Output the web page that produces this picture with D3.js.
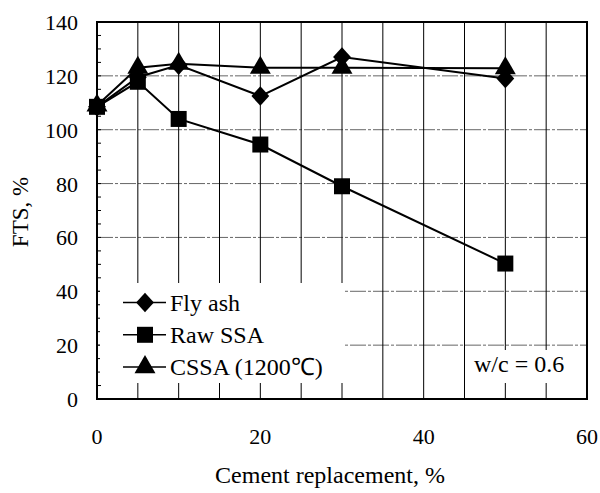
<!DOCTYPE html>
<html><head><meta charset="utf-8">
<script src="https://cdn.jsdelivr.net/npm/d3@7/dist/d3.min.js"></script>
<style>body{margin:0;background:#fff}svg{display:block}text{font-family:"Liberation Serif","Times New Roman",serif;fill:#000}</style>
</head><body><svg id="c" width="600" height="493"></svg>
<script>
const replacement = [0, 5, 10, 20, 30, 50];
const flyAsh = [108.5, 119.5, 124, 112.5, 127, 119];
const rawSSA = [108.5, 117.8, 104, 94.5, 79, 50.3];
const cssa = [109, 123, 124.5, 123, 123, 122.8];
const seriesNames = ["Fly ash", "Raw SSA", "CSSA (1200\u2103)"];
const xTicks = [0, 20, 40, 60];
const yTicks = [0, 20, 40, 60, 80, 100, 120, 140];

const svg = d3.select("#c");
const m = {l: 97, r: 587, t: 22, b: 399};
const x = d3.scaleLinear().domain([0, 60]).range([m.l, m.r]);
const y = d3.scaleLinear().domain([0, 140]).range([m.b, m.t]);

// horizontal gridlines
svg.append("g").selectAll("line").data(yTicks.slice(1, -1)).join("line")
  .attr("x1", m.l).attr("x2", m.r).attr("y1", d => y(d)).attr("y2", d => y(d))
  .attr("stroke", "#666").attr("stroke-width", 1).attr("stroke-dasharray", "16,2,3,2");
// vertical gridlines every 5
svg.append("g").selectAll("line").data(d3.range(5, 60, 5)).join("line")
  .attr("x1", d => x(d)).attr("x2", d => x(d)).attr("y1", m.t).attr("y2", m.b)
  .attr("stroke", "#000").attr("stroke-width", 1);
// minor y ticks
svg.append("g").selectAll("line").data(d3.range(5, 140, 5)).join("line")
  .attr("x1", m.l).attr("x2", m.l + 4).attr("y1", d => y(d)).attr("y2", d => y(d))
  .attr("stroke", "#000").attr("stroke-width", 1);

// legend + label white boxes
svg.append("rect").attr("x", 100).attr("y", 283).attr("width", 245).attr("height", 100).attr("fill", "#fff");
svg.append("rect").attr("x", 470).attr("y", 350).attr("width", 100).attr("height", 33).attr("fill", "#fff");

// frame
svg.append("rect").attr("x", m.l).attr("y", m.t).attr("width", m.r - m.l).attr("height", m.b - m.t)
  .attr("fill", "none").attr("stroke", "#000").attr("stroke-width", 2);

// axes labels
svg.append("g").selectAll("text").data(yTicks).join("text")
  .attr("x", 78).attr("y", d => y(d) + 8).attr("text-anchor", "end")
  .attr("font-size", 22).text(d => d);
svg.append("g").selectAll("text").data(xTicks).join("text")
  .attr("x", d => x(d)).attr("y", 444).attr("text-anchor", "middle")
  .attr("font-size", 22).text(d => d);
svg.append("text").attr("x", 330).attr("y", 483).attr("text-anchor", "middle")
  .attr("font-size", 24).text("Cement replacement, %");
svg.append("text").attr("transform", "translate(28,212) rotate(-90)").attr("text-anchor", "middle")
  .attr("font-size", 23).text("FTS, %");

const diamond = {draw(ctx, size) { const r = Math.sqrt(size) / 2 * 1.15; ctx.moveTo(0, -r * 1.1); ctx.lineTo(r, 0); ctx.lineTo(0, r * 1.1); ctx.lineTo(-r, 0); ctx.closePath(); }};
const series = [
  {name: seriesNames[0], vals: flyAsh, sym: diamond, size: 240},
  {name: seriesNames[1], vals: rawSSA, sym: d3.symbolSquare, size: 256},
  {name: seriesNames[2], vals: cssa, sym: d3.symbolTriangle, size: 190}
];
const line = d3.line().x(d => x(d[0])).y(d => y(d[1]));
series.forEach(s => {
  const pts = replacement.map((r, i) => [r, s.vals[i]]);
  svg.append("path").attr("d", line(pts)).attr("fill", "none").attr("stroke", "#000").attr("stroke-width", 2);
});
series.forEach(s => {
  const pts = replacement.map((r, i) => [r, s.vals[i]]);
  svg.append("g").selectAll("path").data(pts).join("path")
    .attr("transform", d => `translate(${x(d[0])},${y(d[1])})`)
    .attr("d", d3.symbol().type(s.sym).size(s.size)).attr("fill", "#000");
});

// legend
series.forEach((s, i) => {
  const ly = 302.5 + i * 32.3;
  svg.append("line").attr("x1", 123).attr("x2", 166).attr("y1", ly).attr("y2", ly)
    .attr("stroke", "#000").attr("stroke-width", 1.5);
  svg.append("path").attr("transform", `translate(145,${ly})`)
    .attr("d", d3.symbol().type(s.sym).size(s.size)).attr("fill", "#000");
  svg.append("text").attr("x", 170).attr("y", ly + 8).attr("font-size", 24).text(s.name);
});
svg.append("text").attr("x", 474).attr("y", 372).attr("font-size", 24).text("w/c = 0.6");
</script></body></html>
